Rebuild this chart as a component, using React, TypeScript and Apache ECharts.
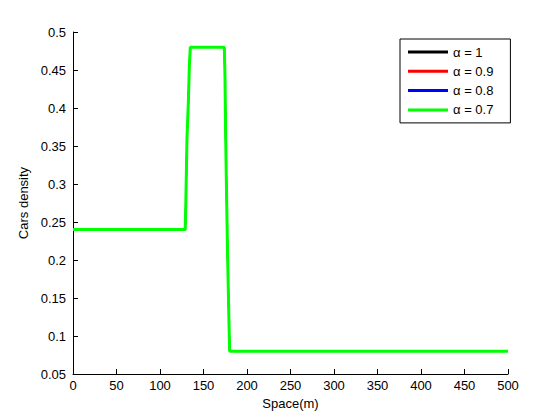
import React, { useEffect, useRef } from "react";
import * as echarts from "echarts";

// Space (m) positions and densities (all four curves overlap)
const spaceM = [0, 129, 129.5, 130.3, 131, 132.6, 133.7, 134.8, 173.9, 174.7, 175.5, 176.6, 177.8, 179.3, 180.1, 500];
const densityA1 = [0.24, 0.24, 0.266, 0.314, 0.36, 0.408, 0.454, 0.48, 0.48, 0.441, 0.36, 0.279, 0.2, 0.117, 0.08, 0.08];
const densityA09 = [0.24, 0.24, 0.266, 0.314, 0.36, 0.408, 0.454, 0.48, 0.48, 0.441, 0.36, 0.279, 0.2, 0.117, 0.08, 0.08];
const densityA08 = [0.24, 0.24, 0.266, 0.314, 0.36, 0.408, 0.454, 0.48, 0.48, 0.441, 0.36, 0.279, 0.2, 0.117, 0.08, 0.08];
const densityA07 = [0.24, 0.24, 0.266, 0.314, 0.36, 0.408, 0.454, 0.48, 0.48, 0.441, 0.36, 0.279, 0.2, 0.117, 0.08, 0.08];

const seriesNames = ["α = 1", "α = 0.9", "α = 0.8", "α = 0.7"];
const seriesColors = ["#000000", "#ff0000", "#0000ff", "#00ff00"];
const seriesValues = [densityA1, densityA09, densityA08, densityA07];

const FONT = "'Liberation Sans', Arial, Helvetica, sans-serif";

export default function App() {
  const ref = useRef<HTMLDivElement>(null);
  useEffect(() => {
    if (!ref.current) return;
    const chart = echarts.init(ref.current, undefined, { renderer: "svg" });
    chart.setOption({
      animation: false,
      backgroundColor: "#ffffff",
      textStyle: { fontFamily: FONT },
      grid: { left: 73, right: 52, top: 32, bottom: 46, containLabel: false },
      legend: {
        orient: "vertical",
        left: 400,
        top: 39,
        data: seriesNames,
        icon: "rect",
        itemWidth: 40,
        itemHeight: 3,
        itemGap: 5.3,
        padding: [6, 17, 6, 8],
        borderColor: "#000000",
        borderWidth: 1,
        backgroundColor: "#ffffff",
        borderRadius: 0,
        textStyle: { fontSize: 13, color: "#000", fontFamily: FONT, lineHeight: 14, padding: [0, 0, 0, 0] },
      },
      xAxis: {
        type: "value",
        min: 0,
        max: 500,
        interval: 50,
        name: "Space(m)",
        nameLocation: "middle",
        nameGap: 23,
        nameTextStyle: { fontSize: 13, color: "#000", fontFamily: FONT },
        axisLine: { show: true, onZero: false, lineStyle: { color: "#000", width: 1 } },
        axisTick: { show: true, inside: true, length: 5, lineStyle: { color: "#000" } },
        axisLabel: { fontSize: 13, color: "#000", margin: 5, fontFamily: FONT },
        splitLine: { show: false },
      },
      yAxis: {
        type: "value",
        min: 0.05,
        max: 0.5,
        interval: 0.05,
        name: "Cars density",
        nameLocation: "middle",
        nameGap: 31,
        nameTextStyle: { fontSize: 13, color: "#000", fontFamily: FONT },
        axisLine: { show: true, onZero: false, lineStyle: { color: "#000", width: 1 } },
        axisTick: { show: true, inside: true, length: 5, lineStyle: { color: "#000" } },
        axisLabel: {
          fontSize: 13,
          color: "#000",
          margin: 7,
          fontFamily: FONT,
          formatter: (v: number) => String(+v.toFixed(2)),
        },
        splitLine: { show: false },
      },
      series: seriesNames.map((name, i) => ({
        name,
        type: "line",
        data: spaceM.map((x, j) => [x, seriesValues[i][j]]),
        showSymbol: false,
        symbol: "none",
        lineStyle: { color: seriesColors[i], width: i === seriesNames.length - 1 ? 3 : 1.5 },
        itemStyle: { color: seriesColors[i] },
        z: 2 + i,
      })),
    });
    return () => chart.dispose();
  }, []);
  return (
    <div
      ref={ref}
      style={{ position: "fixed", left: 0, top: 0, width: 560, height: 420, background: "#fff" }}
    />
  );
}
